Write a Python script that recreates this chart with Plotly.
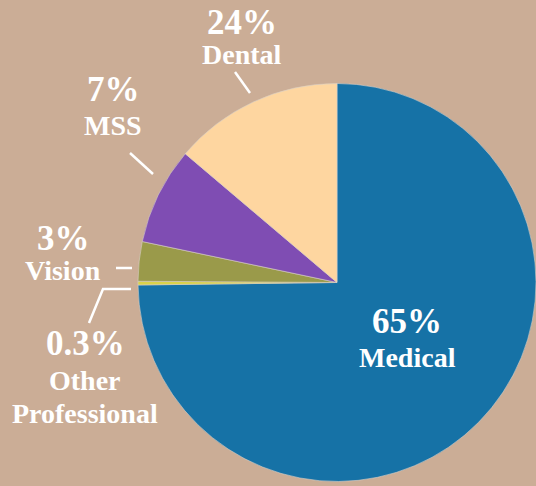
import plotly.graph_objects as go

# slices, in drawing order (clockwise from 12 o'clock)
categories = ["Medical", "Other Professional", "Vision", "MSS", "Dental"]
slice_sizes = [74.8, 0.3, 3.2, 7.9, 13.8]          # arc sizes as drawn
pct_labels = ["65%", "0.3%", "3%", "7%", "24%"]    # printed percentages
colors = ["#1672a6", "#d9d24a", "#9a9a4a", "#7f4db3", "#fed6a0"]

W, H = 536, 486
BG = "#cbad96"
FONT = "Liberation Serif"


def px(x, y):
    # pixel -> paper coords (no margins)
    return x / W, 1 - y / H


fig = go.Figure()
fig.add_trace(go.Pie(
    labels=categories,
    values=slice_sizes,
    sort=False,
    direction="clockwise",
    rotation=0,
    textinfo="none",
    hoverinfo="label+percent",
    marker=dict(colors=colors, line=dict(color="#d8d0c8", width=0.6)),
    domain=dict(x=[138 / W, 1.0], y=[0.0093, 0.8282]),
    showlegend=False,
))

# label placement (pixel centres): percent text, name lines
label_pos = {
    "Medical": ((407, 321), [(407, 357)]),
    "Dental": ((242, 22), [(242, 54)]),
    "MSS": ((113, 90), [(113, 125)]),
    "Vision": ((63, 238), [(63, 270)]),
    "Other Professional": ((85, 343), [(85, 380), (85, 413)]),
}

for cat, pct in zip(categories, pct_labels):
    (pxx, pyy), name_pos = label_pos[cat]
    x, y = px(pxx, pyy)
    fig.add_annotation(x=x, y=y, xref="paper", yref="paper", text=pct,
                       showarrow=False, xanchor="center", yanchor="middle",
                       font=dict(family=FONT, size=35, color="white", weight="bold"))
    words = cat.split(" ")
    for word, (nx, ny) in zip(words, name_pos):
        x, y = px(nx, ny)
        fig.add_annotation(x=x, y=y, xref="paper", yref="paper", text=word,
                           showarrow=False, xanchor="center", yanchor="middle",
                           font=dict(family=FONT, size=28, color="white", weight="bold"))

# leader lines
leaders = [
    [(235, 72), (250, 93)],
    [(130, 153), (153, 174)],
    [(116, 268), (132, 268)],
    [(89, 323), (103, 289), (131, 289)],
]
for pts in leaders:
    path = "M " + " L ".join(f"{px(a, b)[0]:.5f},{px(a, b)[1]:.5f}" for a, b in pts)
    fig.add_shape(type="path", path=path, xref="paper", yref="paper",
                  line=dict(color="white", width=2.5))

fig.update_layout(
    width=W, height=H,
    margin=dict(l=0, r=0, t=0, b=0),
    paper_bgcolor=BG, plot_bgcolor=BG,
)

# drop the browser's default body margin so the figure fills the window
fig.write_html("out.html",
               config={"displayModeBar": False},
               post_script="document.body.style.margin='0';document.body.style.background='%s';" % BG)
